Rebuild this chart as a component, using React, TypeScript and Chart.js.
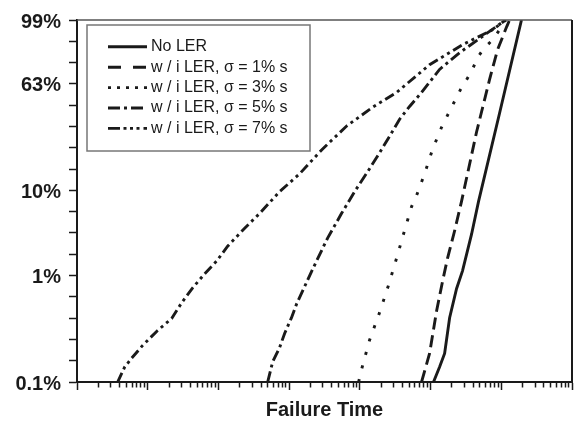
import React, { useEffect, useRef } from 'react';
import { Chart, registerables } from 'chart.js';

Chart.register(...registerables);

// ---- Data (x: failure time, arbitrary units on a log axis; y: Weibull variable ln(-ln(1-F))) ----
const seriesLabels = [
  'No LER',
  'w / i LER, σ = 1% s',
  'w / i LER, σ = 3% s',
  'w / i LER, σ = 5% s',
  'w / i LER, σ = 7% s',
];

const noLerTime = [1.10e5, 1.34e5, 1.58e5, 1.86e5, 2.33e5, 2.83e5, 3.80e5, 4.77e5, 9.45e5, 1.93e6];
const noLerWeibit = [-7.0, -6.65, -6.33, -5.49, -4.81, -4.39, -3.53, -2.76, -0.69, 1.5];

const sigma1Time = [7.46e4, 9.68e4, 1.22e5, 1.48e5, 1.74e5, 2.18e5, 2.74e5, 4.47e5, 6.82e5, 8.85e5, 1.19e6, 1.31e6];
const sigma1Weibit = [-7.0, -6.33, -5.32, -4.63, -4.09, -3.46, -2.76, -1.13, 0.10, 0.80, 1.34, 1.5];

const sigma3Time = [9.60e3, 1.06e4, 1.37e4, 1.90e4, 2.55e4, 3.31e4, 4.29e4, 5.39e4, 6.34e4, 8.23e4, 1.07e5, 1.43e5, 1.98e5, 2.66e5, 3.80e5, 4.62e5, 5.79e5, 7.52e5, 9.45e5, 1.15e6];
const sigma3Weibit = [-7.0, -6.70, -6.02, -5.37, -4.72, -4.09, -3.44, -2.88, -2.62, -2.11, -1.53, -1.02, -0.55, -0.13, 0.29, 0.62, 0.85, 1.03, 1.27, 1.5];

const sigma5Time = [497, 584, 733, 863, 1.08e3, 1.28e3, 2.15e3, 3.50e3, 5.52e3, 8.43e3, 1.29e4, 1.90e4, 2.63e4, 3.65e4, 5.05e4, 7.46e4, 1.34e5, 2.57e5, 5.26e5, 1.15e6];
const sigma5Weibit = [-7.0, -6.53, -6.19, -5.86, -5.49, -5.16, -4.35, -3.62, -3.04, -2.53, -2.06, -1.62, -1.23, -0.83, -0.53, -0.20, 0.34, 0.73, 1.10, 1.5];

const sigma7Time = [3.76, 4.72, 5.93, 8.49, 13.8, 21.8, 30.2, 43.2, 63.8, 94.4, 135, 235, 383, 733, 1.41e3, 2.88e3, 6.50e3, 1.51e4, 3.31e4, 9.68e4, 2.83e5, 7.52e5, 1.15e6];
const sigma7Weibit = [-7.0, -6.65, -6.44, -6.14, -5.79, -5.51, -5.14, -4.79, -4.46, -4.16, -3.81, -3.39, -3.04, -2.53, -2.11, -1.55, -0.99, -0.55, -0.20, 0.45, 0.92, 1.27, 1.5];

// y-axis tick labels (Weibull-scale positions)
const yTickValues = [1.5, 0, -2.5, -4.5, -7];
const yTickLabels = ['99%', '63%', '10%', '1%', '0.1%'];

// x-axis tick values (log decades with minor ticks), no labels
const xDecades = [1, 10, 100, 1e3, 1e4, 1e5, 1e6];
const xTickValues: number[] = [];
xDecades.forEach((d) => {
  for (let m = 1; m <= 9; m++) xTickValues.push(m * d);
});
xTickValues.push(1e7);

const isDecade = (v: number) => Math.abs(Math.log10(v) - Math.round(Math.log10(v))) < 1e-9;

const FONT = "'Liberation Sans', Arial, Helvetica, sans-serif";
const INK = '#1a1a1a';

const toPoints = (xs: number[], ys: number[]) => xs.map((x, i) => ({ x, y: ys[i] }));

const framePlugin = {
  id: 'frame',
  afterDraw(chart: any) {
    const { ctx, chartArea: a } = chart;
    ctx.save();
    ctx.strokeStyle = '#555';
    ctx.lineWidth = 1.5;
    ctx.beginPath();
    ctx.moveTo(a.left, a.top);
    ctx.lineTo(a.right, a.top);
    ctx.stroke();
    ctx.strokeStyle = INK;
    ctx.lineWidth = 2;
    ctx.beginPath();
    ctx.moveTo(a.right, a.top);
    ctx.lineTo(a.right, a.bottom);
    ctx.stroke();
    ctx.restore();
  },
};

const legendBoxPlugin = {
  id: 'legendBox',
  afterDatasetsDraw(chart: any) {
    const { ctx, chartArea: a } = chart;
    const x0 = a.left + 10;
    const y0 = a.top + 5;
    const w = 223;
    const h = 126;
    ctx.save();
    ctx.fillStyle = '#fff';
    ctx.fillRect(x0, y0, w, h);
    ctx.strokeStyle = '#777';
    ctx.lineWidth = 1.5;
    ctx.strokeRect(x0, y0, w, h);
    chart.data.datasets.forEach((ds: any, i: number) => {
      const y = y0 + 21.8 + i * 20.4;
      ctx.setLineDash(ds.legendDash || []);
      ctx.lineWidth = 2.9;
      ctx.strokeStyle = ds.borderColor;
      ctx.lineCap = 'butt';
      ctx.beginPath();
      ctx.moveTo(x0 + 21, y);
      ctx.lineTo(x0 + 60, y);
      ctx.stroke();
      ctx.setLineDash([]);
      ctx.fillStyle = INK;
      ctx.font = `16px ${FONT}`;
      ctx.textBaseline = 'middle';
      ctx.textAlign = 'left';
      ctx.fillText(ds.label, x0 + 64, y);
    });
    ctx.restore();
  },
};

export default function App() {
  const ref = useRef<HTMLCanvasElement | null>(null);

  useEffect(() => {
    if (!ref.current) return;
    Chart.defaults.font.family = FONT;
    const common = {
      borderColor: INK,
      borderWidth: 2.9,
      pointRadius: 0,
      fill: false,
      tension: 0,
      borderCapStyle: 'butt' as const,
    };
    const chart = new Chart(ref.current, {
      type: 'line',
      data: {
        datasets: [
          { ...common, label: seriesLabels[0], data: toPoints(noLerTime, noLerWeibit), borderDash: [], legendDash: [] } as any,
          { ...common, label: seriesLabels[1], data: toPoints(sigma1Time, sigma1Weibit), borderDash: [12, 6], legendDash: [13, 12] } as any,
          { ...common, label: seriesLabels[2], data: toPoints(sigma3Time, sigma3Weibit), borderDash: [3, 11], legendDash: [3, 6] } as any,
          { ...common, label: seriesLabels[3], data: toPoints(sigma5Time, sigma5Weibit), borderDash: [11, 4, 3, 4], legendDash: [12, 4, 3, 4] } as any,
          { ...common, label: seriesLabels[4], data: toPoints(sigma7Time, sigma7Weibit), borderDash: [10, 4, 3, 4, 3, 4], legendDash: [12, 3.5, 3, 3.5, 3, 3.5, 3, 4] } as any,
        ],
      },
      options: {
        animation: false,
        responsive: false,
        layout: { padding: { top: 17, right: 4, left: 0, bottom: 0 } },
        plugins: {
          legend: { display: false },
          tooltip: { enabled: false },
        },
        scales: {
          x: {
            type: 'logarithmic',
            min: 1,
            max: 1e7,
            afterBuildTicks: (scale: any) => {
              scale.ticks = xTickValues.map((v) => ({ value: v, major: isDecade(v) }));
            },
            afterFit: (scale: any) => {
              scale.height = 41;
            },
            ticks: { display: false, autoSkip: false },
            grid: {
              drawOnChartArea: false,
              drawTicks: true,
              tickLength: 8,
              tickColor: INK,
              tickWidth: 1.5,
              tickBorderDash: (ctx: any) => (ctx.tick && isDecade(ctx.tick.value) ? [] : [4.5, 20]),
            },
            border: { display: true, color: INK, width: 2 },
            title: {
              display: true,
              text: 'Failure Time',
              color: INK,
              font: { family: FONT, size: 20, weight: 'bold' },
              padding: { top: 0, bottom: 1 },
            },
          },
          y: {
            type: 'linear',
            min: -7,
            max: 1.5,
            afterFit: (scale: any) => {
              scale.width = 77;
            },
            ticks: {
              stepSize: 0.5,
              autoSkip: false,
              padding: 8,
              labelOffset: 2,
              color: INK,
              font: { family: FONT, size: 20, weight: 'bold' },
              callback: (value: any) => {
                const idx = yTickValues.findIndex((t) => Math.abs(t - Number(value)) < 1e-6);
                return idx >= 0 ? yTickLabels[idx] : '';
              },
            },
            grid: {
              drawOnChartArea: false,
              drawTicks: true,
              tickLength: 8,
              tickColor: INK,
              tickWidth: 1.5,
            },
            border: { display: true, color: INK, width: 2 },
          },
        },
      } as any,
      plugins: [framePlugin, legendBoxPlugin],
    });
    return () => chart.destroy();
  }, []);

  return (
    <div style={{ position: 'absolute', left: 0, top: 0, width: 576, height: 423, background: '#fff' }}>
      <canvas ref={ref} width={576} height={423} />
    </div>
  );
}
